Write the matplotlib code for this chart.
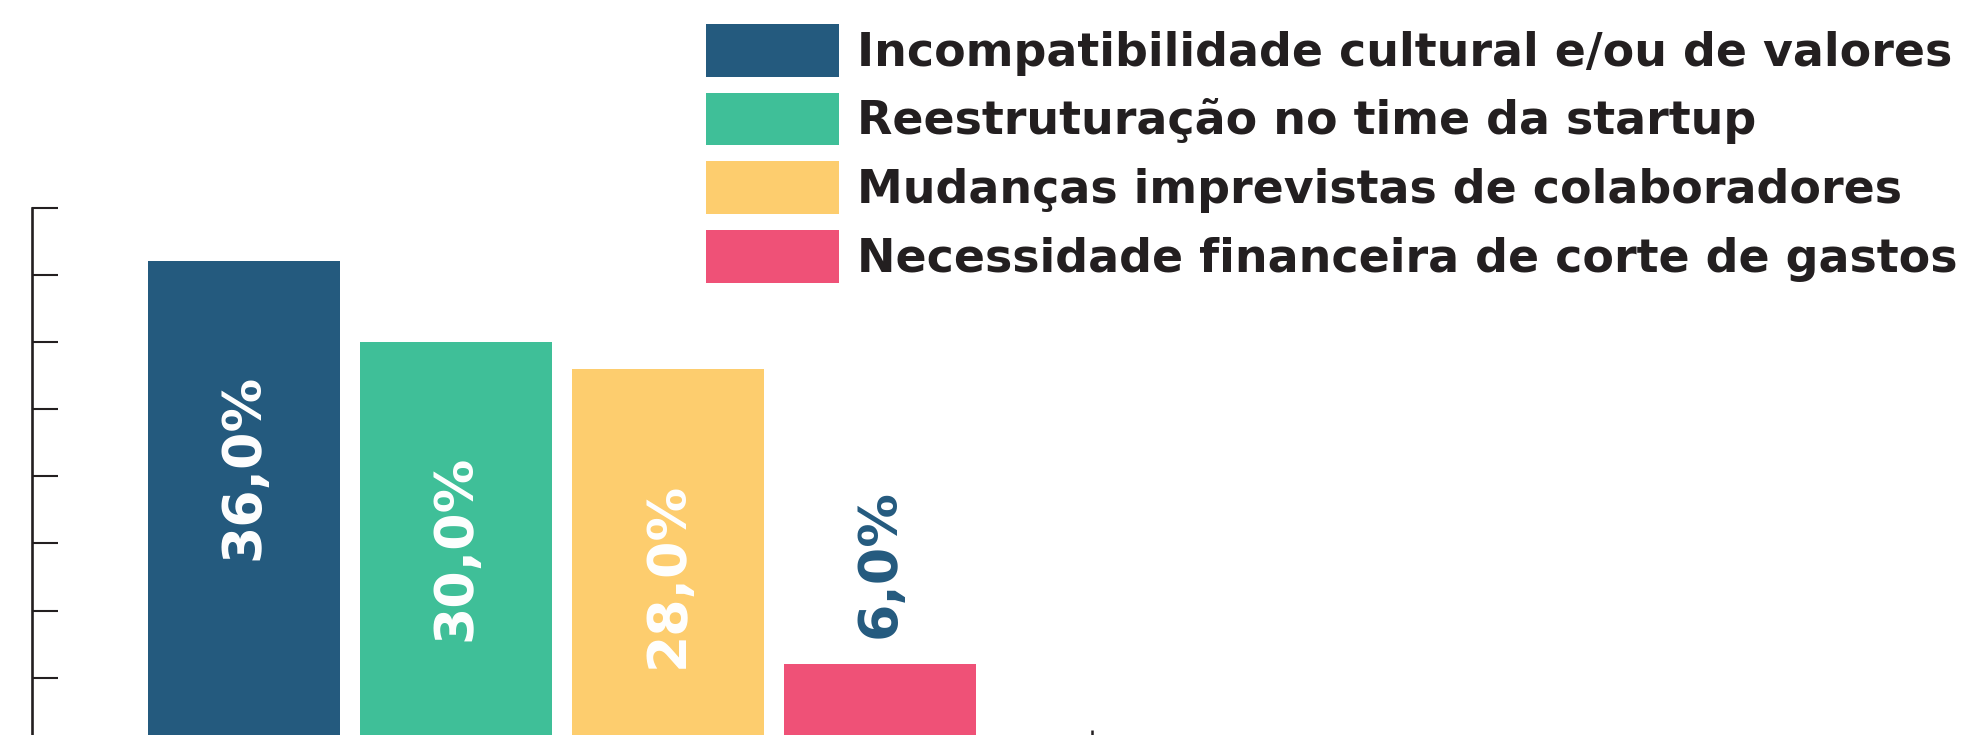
import numpy as np
import matplotlib
matplotlib.use('Agg')
import matplotlib.pyplot as plt
from matplotlib.patches import Patch

# data
categories = ['Incompatibilidade cultural e/ou de valores',
              'Reestruturação no time da startup',
              'Mudanças imprevistas de colaboradores',
              'Necessidade financeira de corte de gastos']
values = [36.0, 30.0, 28.0, 6.0]
colors = ['#245a7e', '#3fbf98', '#fdcd6e', '#ef5177']
yticks = np.arange(0, 45, 5)

text_color = '#231f20'


def pct(v):
    return f'{v:.1f}'.replace('.', ',') + '%'


def main():
    plt.rcParams['font.family'] = ['DejaVu Sans']
    fig = plt.figure(figsize=(19.73, 7.35), dpi=100)
    # axes runs a bit below the figure edge, the baseline is cut off
    ax = fig.add_axes([0.0161, -0.0136, 0.591, 0.7312])

    x = np.arange(len(values))
    ax.bar(x, values, width=0.905, color=colors)
    ax.set_axisbelow(True)

    for i, v in enumerate(values):
        if v > 10:
            ax.annotate(pct(v), xy=(i, v), xytext=(0, -81), textcoords='offset points',
                        ha='center', va='top', rotation=90, color='white',
                        fontsize=38.6, fontweight='bold')
        else:
            ax.annotate(pct(v), xy=(i, v), xytext=(0, 18.7), textcoords='offset points',
                        ha='center', va='bottom', rotation=90, color=colors[0],
                        fontsize=38.6, fontweight='bold')

    ax.set_xlim(-1, 4.5)
    ax.set_ylim(0, 40)
    ax.set_yticks(yticks)
    ax.set_yticklabels([])
    ax.set_xticks(np.arange(len(values) + 1))
    ax.set_xticklabels([])
    ax.tick_params(axis='y', direction='in', length=18.7, width=1.5, colors=text_color)
    ax.tick_params(axis='x', direction='in', length=10.8, width=1.8, colors=text_color)

    for s in ['top', 'right', 'bottom']:
        ax.spines[s].set_visible(False)
    ax.spines['left'].set_linewidth(1.9)
    ax.spines['left'].set_color(text_color)

    handles = [Patch(facecolor=c, edgecolor='none') for c in colors]
    leg = fig.legend(handles, categories, loc='upper left',
                     bbox_to_anchor=(706 / 1973, 1 - 24 / 735),
                     frameon=False, borderpad=0, borderaxespad=0,
                     handlelength=2.9, handleheight=1.39, handletextpad=0.4,
                     labelspacing=0.35,
                     prop={'size': 33, 'weight': 'bold'})
    for t in leg.get_texts():
        t.set_color(text_color)

    fig.savefig('out.png', dpi=100)


main()
